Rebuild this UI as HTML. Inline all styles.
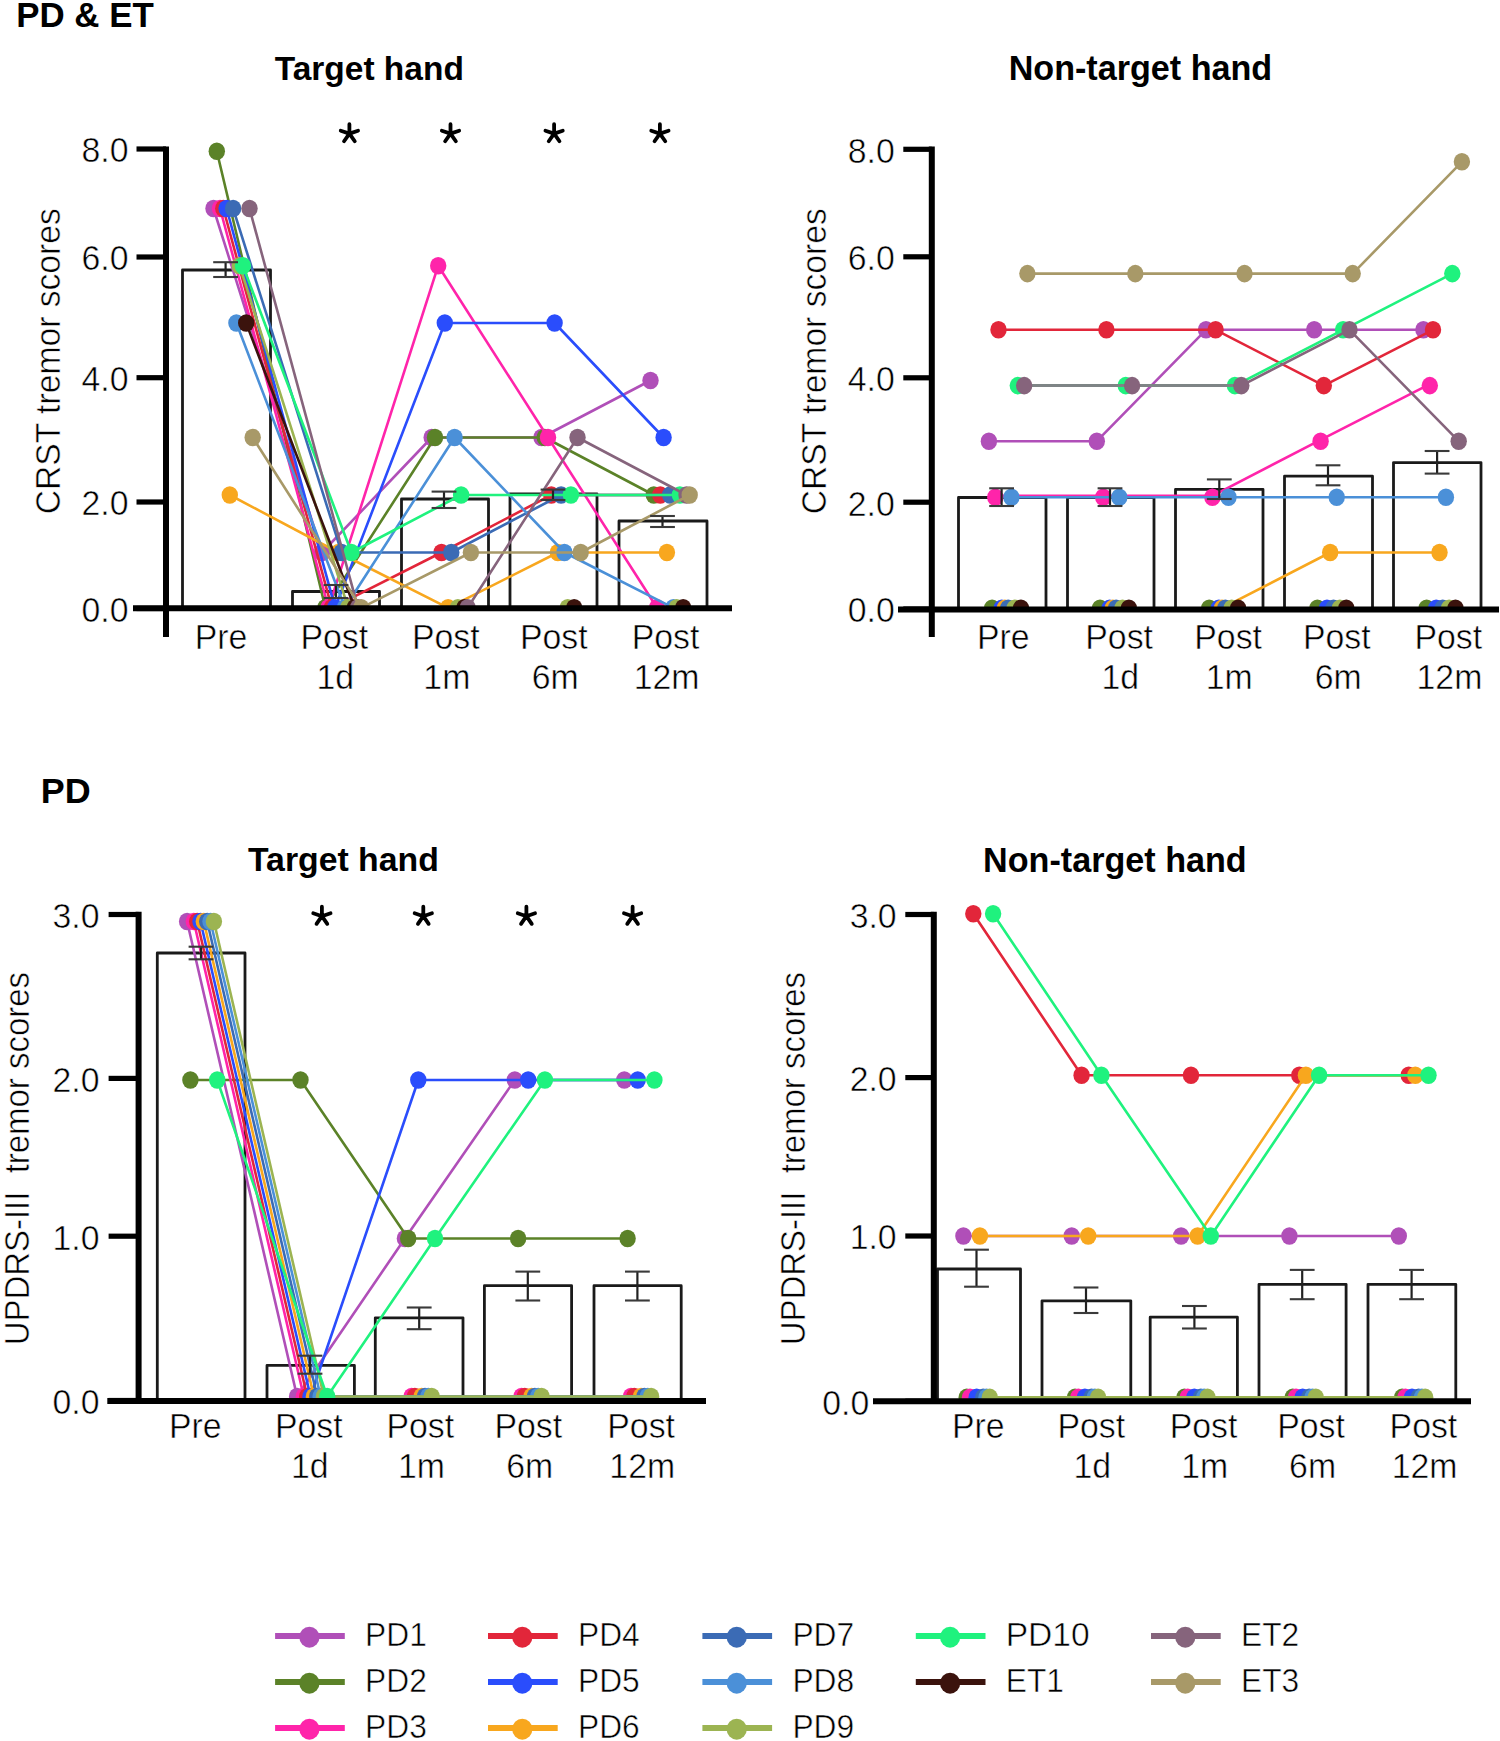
<!DOCTYPE html>
<html><head><meta charset="utf-8"><title>Figure</title><style>html,body{margin:0;padding:0;background:#fff;}svg{display:block;}.thin{stroke:#fff;stroke-width:0.55px;}</style></head><body>
<svg width="1500" height="1741" viewBox="0 0 1500 1741" font-family='"Liberation Sans", sans-serif'>
<rect width="1500" height="1741" fill="#fff"/>
<g>
<text x="0" y="0" font-size="35.23" font-weight="bold" transform="translate(16.14,27.20) scale(0.9907,1)" >PD &amp; ET</text>
<text x="0" y="0" font-size="34.47" font-weight="bold" transform="translate(40.87,803.30) scale(1.0425,1)" >PD</text>
<text x="0" y="0" font-size="33.10" font-weight="bold" transform="translate(274.66,80.00) scale(1.0121,1)" >Target hand</text>
<text x="0" y="0" font-size="34.34" font-weight="bold" transform="translate(1008.70,79.90) scale(0.9939,1)" >Non-target hand</text>
<text x="0" y="0" font-size="33.10" font-weight="bold" transform="translate(247.96,870.50) scale(1.0213,1)" >Target hand</text>
<text x="0" y="0" font-size="35.17" font-weight="bold" transform="translate(983.09,871.50) scale(0.9709,1)" >Non-target hand</text>
<path d="M182.5,608.2 V270.0 H270.5 V608.2" fill="none" stroke="#1a1a1a" stroke-width="2.8" stroke-linejoin="round"/>
<path d="M292.5,608.2 V591.5 H379.5 V608.2" fill="none" stroke="#1a1a1a" stroke-width="2.8" stroke-linejoin="round"/>
<path d="M401.5,608.2 V499.0 H488.5 V608.2" fill="none" stroke="#1a1a1a" stroke-width="2.8" stroke-linejoin="round"/>
<path d="M510.0,608.2 V494.0 H597.0 V608.2" fill="none" stroke="#1a1a1a" stroke-width="2.8" stroke-linejoin="round"/>
<path d="M619.0,608.2 V521.0 H707.0 V608.2" fill="none" stroke="#1a1a1a" stroke-width="2.8" stroke-linejoin="round"/>
<clipPath id="clip0"><rect x="106" y="106.5" width="700" height="501.70000000000005"/></clipPath>
<g clip-path="url(#clip0)">
<path d="M213.5,208.5 L322.0,552.5 L431.7,437.5 L541.5,437.5 L650.5,380.5" fill="none" stroke="#b04fb8" stroke-width="2.6" stroke-linejoin="round"/>
<ellipse cx="213.5" cy="208.5" rx="8.2" ry="8.8" fill="#b04fb8"/>
<ellipse cx="322.0" cy="552.5" rx="8.2" ry="8.8" fill="#b04fb8"/>
<ellipse cx="431.7" cy="437.5" rx="8.2" ry="8.8" fill="#b04fb8"/>
<ellipse cx="541.5" cy="437.5" rx="8.2" ry="8.8" fill="#b04fb8"/>
<ellipse cx="650.5" cy="380.5" rx="8.2" ry="8.8" fill="#b04fb8"/>
<path d="M216.8,151.2 L325.3,607.8 L435.0,437.5 L544.8,437.5 L653.8,495.0" fill="none" stroke="#5b8228" stroke-width="2.6" stroke-linejoin="round"/>
<ellipse cx="216.8" cy="151.2" rx="8.2" ry="8.8" fill="#5b8228"/>
<ellipse cx="325.3" cy="607.8" rx="8.2" ry="8.8" fill="#5b8228"/>
<ellipse cx="435.0" cy="437.5" rx="8.2" ry="8.8" fill="#5b8228"/>
<ellipse cx="544.8" cy="437.5" rx="8.2" ry="8.8" fill="#5b8228"/>
<ellipse cx="653.8" cy="495.0" rx="8.2" ry="8.8" fill="#5b8228"/>
<path d="M220.0,208.5 L328.5,607.8 L438.2,265.7 L548.0,437.5 L657.0,607.8" fill="none" stroke="#ff24aa" stroke-width="2.6" stroke-linejoin="round"/>
<ellipse cx="220.0" cy="208.5" rx="8.2" ry="8.8" fill="#ff24aa"/>
<ellipse cx="328.5" cy="607.8" rx="8.2" ry="8.8" fill="#ff24aa"/>
<ellipse cx="438.2" cy="265.7" rx="8.2" ry="8.8" fill="#ff24aa"/>
<ellipse cx="548.0" cy="437.5" rx="8.2" ry="8.8" fill="#ff24aa"/>
<ellipse cx="657.0" cy="607.8" rx="8.2" ry="8.8" fill="#ff24aa"/>
<path d="M223.3,208.5 L331.8,607.8 L441.5,552.5 L551.3,495.0 L660.3,495.0" fill="none" stroke="#e2263a" stroke-width="2.6" stroke-linejoin="round"/>
<ellipse cx="223.3" cy="208.5" rx="8.2" ry="8.8" fill="#e2263a"/>
<ellipse cx="331.8" cy="607.8" rx="8.2" ry="8.8" fill="#e2263a"/>
<ellipse cx="441.5" cy="552.5" rx="8.2" ry="8.8" fill="#e2263a"/>
<ellipse cx="551.3" cy="495.0" rx="8.2" ry="8.8" fill="#e2263a"/>
<ellipse cx="660.3" cy="495.0" rx="8.2" ry="8.8" fill="#e2263a"/>
<path d="M226.6,208.5 L335.1,607.8 L444.8,323.0 L554.6,323.0 L663.6,437.5" fill="none" stroke="#2a4dfc" stroke-width="2.6" stroke-linejoin="round"/>
<ellipse cx="226.6" cy="208.5" rx="8.2" ry="8.8" fill="#2a4dfc"/>
<ellipse cx="335.1" cy="607.8" rx="8.2" ry="8.8" fill="#2a4dfc"/>
<ellipse cx="444.8" cy="323.0" rx="8.2" ry="8.8" fill="#2a4dfc"/>
<ellipse cx="554.6" cy="323.0" rx="8.2" ry="8.8" fill="#2a4dfc"/>
<ellipse cx="663.6" cy="437.5" rx="8.2" ry="8.8" fill="#2a4dfc"/>
<path d="M229.8,495.0 L338.4,552.5 L448.1,607.8 L557.9,552.5 L666.9,552.5" fill="none" stroke="#f8a71e" stroke-width="2.6" stroke-linejoin="round"/>
<ellipse cx="229.8" cy="495.0" rx="8.2" ry="8.8" fill="#f8a71e"/>
<ellipse cx="338.4" cy="552.5" rx="8.2" ry="8.8" fill="#f8a71e"/>
<ellipse cx="448.1" cy="607.8" rx="8.2" ry="8.8" fill="#f8a71e"/>
<ellipse cx="557.9" cy="552.5" rx="8.2" ry="8.8" fill="#f8a71e"/>
<ellipse cx="666.9" cy="552.5" rx="8.2" ry="8.8" fill="#f8a71e"/>
<path d="M233.1,208.5 L341.6,552.5 L451.3,552.5 L561.1,495.0 L670.1,495.0" fill="none" stroke="#3b6bb5" stroke-width="2.6" stroke-linejoin="round"/>
<ellipse cx="233.1" cy="208.5" rx="8.2" ry="8.8" fill="#3b6bb5"/>
<ellipse cx="341.6" cy="552.5" rx="8.2" ry="8.8" fill="#3b6bb5"/>
<ellipse cx="451.3" cy="552.5" rx="8.2" ry="8.8" fill="#3b6bb5"/>
<ellipse cx="561.1" cy="495.0" rx="8.2" ry="8.8" fill="#3b6bb5"/>
<ellipse cx="670.1" cy="495.0" rx="8.2" ry="8.8" fill="#3b6bb5"/>
<path d="M236.4,323.0 L344.9,607.8 L454.6,437.5 L564.4,552.5 L673.4,607.8" fill="none" stroke="#4b90d8" stroke-width="2.6" stroke-linejoin="round"/>
<ellipse cx="236.4" cy="323.0" rx="8.2" ry="8.8" fill="#4b90d8"/>
<ellipse cx="344.9" cy="607.8" rx="8.2" ry="8.8" fill="#4b90d8"/>
<ellipse cx="454.6" cy="437.5" rx="8.2" ry="8.8" fill="#4b90d8"/>
<ellipse cx="564.4" cy="552.5" rx="8.2" ry="8.8" fill="#4b90d8"/>
<ellipse cx="673.4" cy="607.8" rx="8.2" ry="8.8" fill="#4b90d8"/>
<path d="M239.7,265.7 L348.2,607.8 L457.9,607.8 L567.7,607.8 L676.7,607.8" fill="none" stroke="#9cb452" stroke-width="2.6" stroke-linejoin="round"/>
<ellipse cx="239.7" cy="265.7" rx="8.2" ry="8.8" fill="#9cb452"/>
<ellipse cx="348.2" cy="607.8" rx="8.2" ry="8.8" fill="#9cb452"/>
<ellipse cx="457.9" cy="607.8" rx="8.2" ry="8.8" fill="#9cb452"/>
<ellipse cx="567.7" cy="607.8" rx="8.2" ry="8.8" fill="#9cb452"/>
<ellipse cx="676.7" cy="607.8" rx="8.2" ry="8.8" fill="#9cb452"/>
<path d="M242.9,265.7 L351.4,552.5 L461.1,495.0 L570.9,495.0 L679.9,495.0" fill="none" stroke="#1ff27e" stroke-width="2.6" stroke-linejoin="round"/>
<ellipse cx="242.9" cy="265.7" rx="8.2" ry="8.8" fill="#1ff27e"/>
<ellipse cx="351.4" cy="552.5" rx="8.2" ry="8.8" fill="#1ff27e"/>
<ellipse cx="461.1" cy="495.0" rx="8.2" ry="8.8" fill="#1ff27e"/>
<ellipse cx="570.9" cy="495.0" rx="8.2" ry="8.8" fill="#1ff27e"/>
<ellipse cx="679.9" cy="495.0" rx="8.2" ry="8.8" fill="#1ff27e"/>
<path d="M246.2,323.0 L354.7,607.8 L464.4,607.8 L574.2,607.8 L683.2,607.8" fill="none" stroke="#3b130d" stroke-width="2.6" stroke-linejoin="round"/>
<ellipse cx="246.2" cy="323.0" rx="8.2" ry="8.8" fill="#3b130d"/>
<ellipse cx="354.7" cy="607.8" rx="8.2" ry="8.8" fill="#3b130d"/>
<ellipse cx="464.4" cy="607.8" rx="8.2" ry="8.8" fill="#3b130d"/>
<ellipse cx="574.2" cy="607.8" rx="8.2" ry="8.8" fill="#3b130d"/>
<ellipse cx="683.2" cy="607.8" rx="8.2" ry="8.8" fill="#3b130d"/>
<path d="M249.5,208.5 L358.0,607.8 L467.7,607.8 L577.5,437.5 L686.5,495.0" fill="none" stroke="#86647c" stroke-width="2.6" stroke-linejoin="round"/>
<ellipse cx="249.5" cy="208.5" rx="8.2" ry="8.8" fill="#86647c"/>
<ellipse cx="358.0" cy="607.8" rx="8.2" ry="8.8" fill="#86647c"/>
<ellipse cx="467.7" cy="607.8" rx="8.2" ry="8.8" fill="#86647c"/>
<ellipse cx="577.5" cy="437.5" rx="8.2" ry="8.8" fill="#86647c"/>
<ellipse cx="686.5" cy="495.0" rx="8.2" ry="8.8" fill="#86647c"/>
<path d="M252.7,437.5 L361.2,607.8 L470.9,552.5 L580.7,552.5 L689.7,495.0" fill="none" stroke="#a89968" stroke-width="2.6" stroke-linejoin="round"/>
<ellipse cx="252.7" cy="437.5" rx="8.2" ry="8.8" fill="#a89968"/>
<ellipse cx="361.2" cy="607.8" rx="8.2" ry="8.8" fill="#a89968"/>
<ellipse cx="470.9" cy="552.5" rx="8.2" ry="8.8" fill="#a89968"/>
<ellipse cx="580.7" cy="552.5" rx="8.2" ry="8.8" fill="#a89968"/>
<ellipse cx="689.7" cy="495.0" rx="8.2" ry="8.8" fill="#a89968"/>
</g>
<line x1="225.6" y1="262.2" x2="225.6" y2="277.0" stroke="#222" stroke-width="2.2" stroke-linecap="butt"/>
<line x1="213.2" y1="262.2" x2="238.0" y2="262.2" stroke="#3a3a3a" stroke-width="2.1" stroke-linecap="butt"/>
<line x1="213.2" y1="277.0" x2="238.0" y2="277.0" stroke="#3a3a3a" stroke-width="2.1" stroke-linecap="butt"/>
<line x1="336.0" y1="585.0" x2="336.0" y2="598.0" stroke="#222" stroke-width="2.2" stroke-linecap="butt"/>
<line x1="323.6" y1="585.0" x2="348.4" y2="585.0" stroke="#3a3a3a" stroke-width="2.1" stroke-linecap="butt"/>
<line x1="323.6" y1="598.0" x2="348.4" y2="598.0" stroke="#3a3a3a" stroke-width="2.1" stroke-linecap="butt"/>
<line x1="444.0" y1="491.6" x2="444.0" y2="508.0" stroke="#222" stroke-width="2.2" stroke-linecap="butt"/>
<line x1="431.6" y1="491.6" x2="456.4" y2="491.6" stroke="#3a3a3a" stroke-width="2.1" stroke-linecap="butt"/>
<line x1="431.6" y1="508.0" x2="456.4" y2="508.0" stroke="#3a3a3a" stroke-width="2.1" stroke-linecap="butt"/>
<line x1="553.0" y1="489.6" x2="553.0" y2="500.0" stroke="#222" stroke-width="2.2" stroke-linecap="butt"/>
<line x1="540.6" y1="489.6" x2="565.4" y2="489.6" stroke="#3a3a3a" stroke-width="2.1" stroke-linecap="butt"/>
<line x1="540.6" y1="500.0" x2="565.4" y2="500.0" stroke="#3a3a3a" stroke-width="2.1" stroke-linecap="butt"/>
<line x1="662.5" y1="516.0" x2="662.5" y2="527.0" stroke="#222" stroke-width="2.2" stroke-linecap="butt"/>
<line x1="650.1" y1="516.0" x2="674.9" y2="516.0" stroke="#3a3a3a" stroke-width="2.1" stroke-linecap="butt"/>
<line x1="650.1" y1="527.0" x2="674.9" y2="527.0" stroke="#3a3a3a" stroke-width="2.1" stroke-linecap="butt"/>
<line x1="133.0" y1="608.2" x2="732.0" y2="608.2" stroke="#000" stroke-width="6" stroke-linecap="butt"/>
<line x1="166.0" y1="146.5" x2="166.0" y2="637.0" stroke="#000" stroke-width="6" stroke-linecap="butt"/>
<line x1="136.5" y1="149.0" x2="166.0" y2="149.0" stroke="#000" stroke-width="5.2" stroke-linecap="butt"/>
<text x="0" y="0" font-size="35.80" font-weight="normal" class="thin" transform="translate(81.54,162.40) scale(0.9450,1)">8.0</text>
<line x1="136.5" y1="257.0" x2="166.0" y2="257.0" stroke="#000" stroke-width="5.2" stroke-linecap="butt"/>
<text x="0" y="0" font-size="35.80" font-weight="normal" class="thin" transform="translate(81.54,270.40) scale(0.9450,1)">6.0</text>
<line x1="136.5" y1="377.7" x2="166.0" y2="377.7" stroke="#000" stroke-width="5.2" stroke-linecap="butt"/>
<text x="0" y="0" font-size="35.80" font-weight="normal" class="thin" transform="translate(81.54,391.10) scale(0.9450,1)">4.0</text>
<line x1="136.5" y1="502.0" x2="166.0" y2="502.0" stroke="#000" stroke-width="5.2" stroke-linecap="butt"/>
<text x="0" y="0" font-size="35.80" font-weight="normal" class="thin" transform="translate(81.54,515.40) scale(0.9450,1)">2.0</text>
<line x1="136.5" y1="608.5" x2="166.0" y2="608.5" stroke="#000" stroke-width="5.2" stroke-linecap="butt"/>
<text x="0" y="0" font-size="35.80" font-weight="normal" class="thin" transform="translate(81.54,621.90) scale(0.9450,1)">0.0</text>
<text x="0" y="0" font-size="35.80" font-weight="normal" class="thin" transform="translate(194.72,649.10) scale(0.9450,1)">Pre</text>
<text x="0" y="0" font-size="35.80" font-weight="normal" class="thin" transform="translate(300.40,649.10) scale(0.9450,1)">Post</text>
<text x="0" y="0" font-size="35.80" font-weight="normal" class="thin" transform="translate(316.51,689.40) scale(0.9450,1)">1d</text>
<text x="0" y="0" font-size="35.80" font-weight="normal" class="thin" transform="translate(411.90,649.10) scale(0.9450,1)">Post</text>
<text x="0" y="0" font-size="35.80" font-weight="normal" class="thin" transform="translate(423.36,689.40) scale(0.9450,1)">1m</text>
<text x="0" y="0" font-size="35.80" font-weight="normal" class="thin" transform="translate(519.90,649.10) scale(0.9450,1)">Post</text>
<text x="0" y="0" font-size="35.80" font-weight="normal" class="thin" transform="translate(531.78,689.40) scale(0.9450,1)">6m</text>
<text x="0" y="0" font-size="35.80" font-weight="normal" class="thin" transform="translate(631.70,649.10) scale(0.9450,1)">Post</text>
<text x="0" y="0" font-size="35.80" font-weight="normal" class="thin" transform="translate(633.73,689.40) scale(0.9450,1)">12m</text>
<text x="0" y="0" font-size="34.35" font-weight="normal" class="thin" transform="translate(60.26,514.28) rotate(-90) scale(0.9804,1)">CRST tremor scores</text>
<path d="M349.40,133.60L349.40,124.14M349.40,133.60L340.75,130.68M349.40,133.60L344.05,141.26M349.40,133.60L354.75,141.26M349.40,133.60L358.05,130.68" stroke="#000" stroke-width="3.8" stroke-linecap="round" fill="none"/>
<path d="M450.50,133.60L450.50,124.14M450.50,133.60L441.85,130.68M450.50,133.60L445.15,141.26M450.50,133.60L455.85,141.26M450.50,133.60L459.15,130.68" stroke="#000" stroke-width="3.8" stroke-linecap="round" fill="none"/>
<path d="M554.10,133.60L554.10,124.14M554.10,133.60L545.45,130.68M554.10,133.60L548.75,141.26M554.10,133.60L559.45,141.26M554.10,133.60L562.75,130.68" stroke="#000" stroke-width="3.8" stroke-linecap="round" fill="none"/>
<path d="M659.90,133.60L659.90,124.14M659.90,133.60L651.25,130.68M659.90,133.60L654.55,141.26M659.90,133.60L665.25,141.26M659.90,133.60L668.55,130.68" stroke="#000" stroke-width="3.8" stroke-linecap="round" fill="none"/>
<path d="M958.5,609.5 V497.5 H1046.0 V609.5" fill="none" stroke="#1a1a1a" stroke-width="2.8" stroke-linejoin="round"/>
<path d="M1067.5,609.5 V497.5 H1154.0 V609.5" fill="none" stroke="#1a1a1a" stroke-width="2.8" stroke-linejoin="round"/>
<path d="M1175.5,609.5 V489.3 H1263.0 V609.5" fill="none" stroke="#1a1a1a" stroke-width="2.8" stroke-linejoin="round"/>
<path d="M1284.5,609.5 V476.2 H1372.5 V609.5" fill="none" stroke="#1a1a1a" stroke-width="2.8" stroke-linejoin="round"/>
<path d="M1393.5,609.5 V462.6 H1481.0 V609.5" fill="none" stroke="#1a1a1a" stroke-width="2.8" stroke-linejoin="round"/>
<clipPath id="clip1"><rect x="871.8" y="106.5" width="700" height="503.0"/></clipPath>
<g clip-path="url(#clip1)">
<path d="M988.9,441.2 L1096.8,441.2 L1206.0,329.8 L1314.2,329.8 L1423.4,329.8" fill="none" stroke="#b04fb8" stroke-width="2.6" stroke-linejoin="round"/>
<ellipse cx="988.9" cy="441.2" rx="8.2" ry="8.8" fill="#b04fb8"/>
<ellipse cx="1096.8" cy="441.2" rx="8.2" ry="8.8" fill="#b04fb8"/>
<ellipse cx="1206.0" cy="329.8" rx="8.2" ry="8.8" fill="#b04fb8"/>
<ellipse cx="1314.2" cy="329.8" rx="8.2" ry="8.8" fill="#b04fb8"/>
<ellipse cx="1423.4" cy="329.8" rx="8.2" ry="8.8" fill="#b04fb8"/>
<path d="M992.1,608.2 L1100.0,608.2 L1209.2,608.2 L1317.4,608.2 L1426.6,608.2" fill="none" stroke="#5b8228" stroke-width="2.6" stroke-linejoin="round"/>
<ellipse cx="992.1" cy="608.2" rx="8.2" ry="8.8" fill="#5b8228"/>
<ellipse cx="1100.0" cy="608.2" rx="8.2" ry="8.8" fill="#5b8228"/>
<ellipse cx="1209.2" cy="608.2" rx="8.2" ry="8.8" fill="#5b8228"/>
<ellipse cx="1317.4" cy="608.2" rx="8.2" ry="8.8" fill="#5b8228"/>
<ellipse cx="1426.6" cy="608.2" rx="8.2" ry="8.8" fill="#5b8228"/>
<path d="M995.3,495.8 L1103.2,495.8 L1212.4,495.8 L1320.6,439.8 L1429.8,384.2" fill="none" stroke="#ff24aa" stroke-width="2.6" stroke-linejoin="round"/>
<ellipse cx="995.3" cy="497.2" rx="8.2" ry="8.8" fill="#ff24aa"/>
<ellipse cx="1103.2" cy="497.2" rx="8.2" ry="8.8" fill="#ff24aa"/>
<ellipse cx="1212.4" cy="497.2" rx="8.2" ry="8.8" fill="#ff24aa"/>
<ellipse cx="1320.6" cy="441.2" rx="8.2" ry="8.8" fill="#ff24aa"/>
<ellipse cx="1429.8" cy="385.6" rx="8.2" ry="8.8" fill="#ff24aa"/>
<path d="M998.5,329.8 L1106.4,329.8 L1215.6,329.8 L1323.8,385.6 L1433.0,329.8" fill="none" stroke="#e2263a" stroke-width="2.6" stroke-linejoin="round"/>
<ellipse cx="998.5" cy="329.8" rx="8.2" ry="8.8" fill="#e2263a"/>
<ellipse cx="1106.4" cy="329.8" rx="8.2" ry="8.8" fill="#e2263a"/>
<ellipse cx="1215.6" cy="329.8" rx="8.2" ry="8.8" fill="#e2263a"/>
<ellipse cx="1323.8" cy="385.6" rx="8.2" ry="8.8" fill="#e2263a"/>
<ellipse cx="1433.0" cy="329.8" rx="8.2" ry="8.8" fill="#e2263a"/>
<path d="M1001.7,608.2 L1109.6,608.2 L1218.8,608.2 L1327.0,608.2 L1436.2,608.2" fill="none" stroke="#2a4dfc" stroke-width="2.6" stroke-linejoin="round"/>
<ellipse cx="1001.7" cy="608.2" rx="8.2" ry="8.8" fill="#2a4dfc"/>
<ellipse cx="1109.6" cy="608.2" rx="8.2" ry="8.8" fill="#2a4dfc"/>
<ellipse cx="1218.8" cy="608.2" rx="8.2" ry="8.8" fill="#2a4dfc"/>
<ellipse cx="1327.0" cy="608.2" rx="8.2" ry="8.8" fill="#2a4dfc"/>
<ellipse cx="1436.2" cy="608.2" rx="8.2" ry="8.8" fill="#2a4dfc"/>
<path d="M1004.9,608.2 L1112.8,608.2 L1222.0,608.2 L1330.2,552.5 L1439.5,552.5" fill="none" stroke="#f8a71e" stroke-width="2.6" stroke-linejoin="round"/>
<ellipse cx="1004.9" cy="608.2" rx="8.2" ry="8.8" fill="#f8a71e"/>
<ellipse cx="1112.8" cy="608.2" rx="8.2" ry="8.8" fill="#f8a71e"/>
<ellipse cx="1222.0" cy="608.2" rx="8.2" ry="8.8" fill="#f8a71e"/>
<ellipse cx="1330.2" cy="552.5" rx="8.2" ry="8.8" fill="#f8a71e"/>
<ellipse cx="1439.5" cy="552.5" rx="8.2" ry="8.8" fill="#f8a71e"/>
<path d="M1008.2,608.2 L1116.1,608.2 L1225.3,608.2 L1333.5,608.2 L1442.7,608.2" fill="none" stroke="#3b6bb5" stroke-width="2.6" stroke-linejoin="round"/>
<ellipse cx="1008.2" cy="608.2" rx="8.2" ry="8.8" fill="#3b6bb5"/>
<ellipse cx="1116.1" cy="608.2" rx="8.2" ry="8.8" fill="#3b6bb5"/>
<ellipse cx="1225.3" cy="608.2" rx="8.2" ry="8.8" fill="#3b6bb5"/>
<ellipse cx="1333.5" cy="608.2" rx="8.2" ry="8.8" fill="#3b6bb5"/>
<ellipse cx="1442.7" cy="608.2" rx="8.2" ry="8.8" fill="#3b6bb5"/>
<path d="M1011.4,497.2 L1119.3,497.2 L1228.5,497.2 L1336.7,497.2 L1445.9,497.2" fill="none" stroke="#4b90d8" stroke-width="2.6" stroke-linejoin="round"/>
<ellipse cx="1011.4" cy="497.2" rx="8.2" ry="8.8" fill="#4b90d8"/>
<ellipse cx="1119.3" cy="497.2" rx="8.2" ry="8.8" fill="#4b90d8"/>
<ellipse cx="1228.5" cy="497.2" rx="8.2" ry="8.8" fill="#4b90d8"/>
<ellipse cx="1336.7" cy="497.2" rx="8.2" ry="8.8" fill="#4b90d8"/>
<ellipse cx="1445.9" cy="497.2" rx="8.2" ry="8.8" fill="#4b90d8"/>
<path d="M1014.6,608.2 L1122.5,608.2 L1231.7,608.2 L1339.9,608.2 L1449.1,608.2" fill="none" stroke="#9cb452" stroke-width="2.6" stroke-linejoin="round"/>
<ellipse cx="1014.6" cy="608.2" rx="8.2" ry="8.8" fill="#9cb452"/>
<ellipse cx="1122.5" cy="608.2" rx="8.2" ry="8.8" fill="#9cb452"/>
<ellipse cx="1231.7" cy="608.2" rx="8.2" ry="8.8" fill="#9cb452"/>
<ellipse cx="1339.9" cy="608.2" rx="8.2" ry="8.8" fill="#9cb452"/>
<ellipse cx="1449.1" cy="608.2" rx="8.2" ry="8.8" fill="#9cb452"/>
<path d="M1017.8,385.6 L1125.7,385.6 L1234.9,385.6 L1343.1,329.8 L1452.3,273.6" fill="none" stroke="#1ff27e" stroke-width="2.6" stroke-linejoin="round"/>
<ellipse cx="1017.8" cy="385.6" rx="8.2" ry="8.8" fill="#1ff27e"/>
<ellipse cx="1125.7" cy="385.6" rx="8.2" ry="8.8" fill="#1ff27e"/>
<ellipse cx="1234.9" cy="385.6" rx="8.2" ry="8.8" fill="#1ff27e"/>
<ellipse cx="1343.1" cy="329.8" rx="8.2" ry="8.8" fill="#1ff27e"/>
<ellipse cx="1452.3" cy="273.6" rx="8.2" ry="8.8" fill="#1ff27e"/>
<path d="M1021.0,608.2 L1128.9,608.2 L1238.1,608.2 L1346.3,608.2 L1455.5,608.2" fill="none" stroke="#3b130d" stroke-width="2.6" stroke-linejoin="round"/>
<ellipse cx="1021.0" cy="608.2" rx="8.2" ry="8.8" fill="#3b130d"/>
<ellipse cx="1128.9" cy="608.2" rx="8.2" ry="8.8" fill="#3b130d"/>
<ellipse cx="1238.1" cy="608.2" rx="8.2" ry="8.8" fill="#3b130d"/>
<ellipse cx="1346.3" cy="608.2" rx="8.2" ry="8.8" fill="#3b130d"/>
<ellipse cx="1455.5" cy="608.2" rx="8.2" ry="8.8" fill="#3b130d"/>
<path d="M1024.2,385.6 L1132.1,385.6 L1241.3,385.6 L1349.5,329.8 L1458.7,441.2" fill="none" stroke="#86647c" stroke-width="2.6" stroke-linejoin="round"/>
<line x1="1024.2" y1="385.6" x2="1243.0" y2="385.6" stroke="#7f8486" stroke-width="2.6" stroke-linecap="butt"/>
<ellipse cx="1024.2" cy="385.6" rx="8.2" ry="8.8" fill="#86647c"/>
<ellipse cx="1132.1" cy="385.6" rx="8.2" ry="8.8" fill="#86647c"/>
<ellipse cx="1241.3" cy="385.6" rx="8.2" ry="8.8" fill="#86647c"/>
<ellipse cx="1349.5" cy="329.8" rx="8.2" ry="8.8" fill="#86647c"/>
<ellipse cx="1458.7" cy="441.2" rx="8.2" ry="8.8" fill="#86647c"/>
<path d="M1027.4,273.6 L1135.3,273.6 L1244.5,273.6 L1352.7,273.6 L1461.9,161.8" fill="none" stroke="#a89968" stroke-width="2.6" stroke-linejoin="round"/>
<ellipse cx="1027.4" cy="273.6" rx="8.2" ry="8.8" fill="#a89968"/>
<ellipse cx="1135.3" cy="273.6" rx="8.2" ry="8.8" fill="#a89968"/>
<ellipse cx="1244.5" cy="273.6" rx="8.2" ry="8.8" fill="#a89968"/>
<ellipse cx="1352.7" cy="273.6" rx="8.2" ry="8.8" fill="#a89968"/>
<ellipse cx="1461.9" cy="161.8" rx="8.2" ry="8.8" fill="#a89968"/>
</g>
<line x1="1001.6" y1="488.3" x2="1001.6" y2="506.0" stroke="#222" stroke-width="2.2" stroke-linecap="butt"/>
<line x1="989.2" y1="488.3" x2="1014.0" y2="488.3" stroke="#3a3a3a" stroke-width="2.1" stroke-linecap="butt"/>
<line x1="989.2" y1="506.0" x2="1014.0" y2="506.0" stroke="#3a3a3a" stroke-width="2.1" stroke-linecap="butt"/>
<line x1="1110.0" y1="488.3" x2="1110.0" y2="506.0" stroke="#222" stroke-width="2.2" stroke-linecap="butt"/>
<line x1="1097.6" y1="488.3" x2="1122.4" y2="488.3" stroke="#3a3a3a" stroke-width="2.1" stroke-linecap="butt"/>
<line x1="1097.6" y1="506.0" x2="1122.4" y2="506.0" stroke="#3a3a3a" stroke-width="2.1" stroke-linecap="butt"/>
<line x1="1219.3" y1="479.4" x2="1219.3" y2="499.0" stroke="#222" stroke-width="2.2" stroke-linecap="butt"/>
<line x1="1206.9" y1="479.4" x2="1231.7" y2="479.4" stroke="#3a3a3a" stroke-width="2.1" stroke-linecap="butt"/>
<line x1="1206.9" y1="499.0" x2="1231.7" y2="499.0" stroke="#3a3a3a" stroke-width="2.1" stroke-linecap="butt"/>
<line x1="1328.0" y1="465.3" x2="1328.0" y2="485.3" stroke="#222" stroke-width="2.2" stroke-linecap="butt"/>
<line x1="1315.6" y1="465.3" x2="1340.4" y2="465.3" stroke="#3a3a3a" stroke-width="2.1" stroke-linecap="butt"/>
<line x1="1315.6" y1="485.3" x2="1340.4" y2="485.3" stroke="#3a3a3a" stroke-width="2.1" stroke-linecap="butt"/>
<line x1="1437.1" y1="451.0" x2="1437.1" y2="473.6" stroke="#222" stroke-width="2.2" stroke-linecap="butt"/>
<line x1="1424.7" y1="451.0" x2="1449.5" y2="451.0" stroke="#3a3a3a" stroke-width="2.1" stroke-linecap="butt"/>
<line x1="1424.7" y1="473.6" x2="1449.5" y2="473.6" stroke="#3a3a3a" stroke-width="2.1" stroke-linecap="butt"/>
<line x1="898.0" y1="609.5" x2="1499.0" y2="609.5" stroke="#000" stroke-width="6" stroke-linecap="butt"/>
<line x1="931.8" y1="146.5" x2="931.8" y2="637.0" stroke="#000" stroke-width="6" stroke-linecap="butt"/>
<line x1="903.3" y1="149.3" x2="931.8" y2="149.3" stroke="#000" stroke-width="5.2" stroke-linecap="butt"/>
<text x="0" y="0" font-size="35.80" font-weight="normal" class="thin" transform="translate(847.74,162.70) scale(0.9450,1)">8.0</text>
<line x1="903.3" y1="256.8" x2="931.8" y2="256.8" stroke="#000" stroke-width="5.2" stroke-linecap="butt"/>
<text x="0" y="0" font-size="35.80" font-weight="normal" class="thin" transform="translate(847.74,270.20) scale(0.9450,1)">6.0</text>
<line x1="903.3" y1="377.8" x2="931.8" y2="377.8" stroke="#000" stroke-width="5.2" stroke-linecap="butt"/>
<text x="0" y="0" font-size="35.80" font-weight="normal" class="thin" transform="translate(847.74,391.20) scale(0.9450,1)">4.0</text>
<line x1="903.3" y1="502.2" x2="931.8" y2="502.2" stroke="#000" stroke-width="5.2" stroke-linecap="butt"/>
<text x="0" y="0" font-size="35.80" font-weight="normal" class="thin" transform="translate(847.74,515.60) scale(0.9450,1)">2.0</text>
<line x1="903.3" y1="609.0" x2="931.8" y2="609.0" stroke="#000" stroke-width="5.2" stroke-linecap="butt"/>
<text x="0" y="0" font-size="35.80" font-weight="normal" class="thin" transform="translate(847.74,622.40) scale(0.9450,1)">0.0</text>
<text x="0" y="0" font-size="35.80" font-weight="normal" class="thin" transform="translate(977.02,649.10) scale(0.9450,1)">Pre</text>
<text x="0" y="0" font-size="35.80" font-weight="normal" class="thin" transform="translate(1085.30,649.10) scale(0.9450,1)">Post</text>
<text x="0" y="0" font-size="35.80" font-weight="normal" class="thin" transform="translate(1101.41,689.40) scale(0.9450,1)">1d</text>
<text x="0" y="0" font-size="35.80" font-weight="normal" class="thin" transform="translate(1194.30,649.10) scale(0.9450,1)">Post</text>
<text x="0" y="0" font-size="35.80" font-weight="normal" class="thin" transform="translate(1205.76,689.40) scale(0.9450,1)">1m</text>
<text x="0" y="0" font-size="35.80" font-weight="normal" class="thin" transform="translate(1302.90,649.10) scale(0.9450,1)">Post</text>
<text x="0" y="0" font-size="35.80" font-weight="normal" class="thin" transform="translate(1314.78,689.40) scale(0.9450,1)">6m</text>
<text x="0" y="0" font-size="35.80" font-weight="normal" class="thin" transform="translate(1414.50,649.10) scale(0.9450,1)">Post</text>
<text x="0" y="0" font-size="35.80" font-weight="normal" class="thin" transform="translate(1416.53,689.40) scale(0.9450,1)">12m</text>
<text x="0" y="0" font-size="34.91" font-weight="normal" class="thin" transform="translate(826.25,514.28) rotate(-90) scale(0.9645,1)">CRST tremor scores</text>
<path d="M157.3,1401.0 V953.0 H245.0 V1401.0" fill="none" stroke="#1a1a1a" stroke-width="2.8" stroke-linejoin="round"/>
<path d="M267.0,1401.0 V1365.4 H354.4 V1401.0" fill="none" stroke="#1a1a1a" stroke-width="2.8" stroke-linejoin="round"/>
<path d="M375.3,1401.0 V1317.8 H463.0 V1401.0" fill="none" stroke="#1a1a1a" stroke-width="2.8" stroke-linejoin="round"/>
<path d="M484.4,1401.0 V1285.7 H571.6 V1401.0" fill="none" stroke="#1a1a1a" stroke-width="2.8" stroke-linejoin="round"/>
<path d="M594.0,1401.0 V1285.7 H681.2 V1401.0" fill="none" stroke="#1a1a1a" stroke-width="2.8" stroke-linejoin="round"/>
<clipPath id="clip2"><rect x="78.6" y="871.8" width="700" height="529.2"/></clipPath>
<g clip-path="url(#clip2)">
<path d="M187.1,921.5 L297.1,1396.5 L404.9,1238.5 L514.8,1080.0 L624.3,1080.0" fill="none" stroke="#b04fb8" stroke-width="2.6" stroke-linejoin="round"/>
<ellipse cx="187.1" cy="921.5" rx="8.2" ry="8.8" fill="#b04fb8"/>
<ellipse cx="297.1" cy="1396.5" rx="8.2" ry="8.8" fill="#b04fb8"/>
<ellipse cx="404.9" cy="1238.5" rx="8.2" ry="8.8" fill="#b04fb8"/>
<ellipse cx="514.8" cy="1080.0" rx="8.2" ry="8.8" fill="#b04fb8"/>
<ellipse cx="624.3" cy="1080.0" rx="8.2" ry="8.8" fill="#b04fb8"/>
<path d="M190.4,1080.0 L300.5,1080.0 L408.2,1238.5 L518.1,1238.5 L627.6,1238.5" fill="none" stroke="#5b8228" stroke-width="2.6" stroke-linejoin="round"/>
<ellipse cx="190.4" cy="1080.0" rx="8.2" ry="8.8" fill="#5b8228"/>
<ellipse cx="300.5" cy="1080.0" rx="8.2" ry="8.8" fill="#5b8228"/>
<ellipse cx="408.2" cy="1238.5" rx="8.2" ry="8.8" fill="#5b8228"/>
<ellipse cx="518.1" cy="1238.5" rx="8.2" ry="8.8" fill="#5b8228"/>
<ellipse cx="627.6" cy="1238.5" rx="8.2" ry="8.8" fill="#5b8228"/>
<path d="M193.8,921.5 L303.8,1396.5 L411.6,1396.5 L521.5,1396.5 L631.0,1396.5" fill="none" stroke="#ff24aa" stroke-width="2.6" stroke-linejoin="round"/>
<ellipse cx="193.8" cy="921.5" rx="8.2" ry="8.8" fill="#ff24aa"/>
<ellipse cx="303.8" cy="1396.5" rx="8.2" ry="8.8" fill="#ff24aa"/>
<ellipse cx="411.6" cy="1396.5" rx="8.2" ry="8.8" fill="#ff24aa"/>
<ellipse cx="521.5" cy="1396.5" rx="8.2" ry="8.8" fill="#ff24aa"/>
<ellipse cx="631.0" cy="1396.5" rx="8.2" ry="8.8" fill="#ff24aa"/>
<path d="M197.2,921.5 L307.2,1396.5 L414.9,1396.5 L524.8,1396.5 L634.3,1396.5" fill="none" stroke="#e2263a" stroke-width="2.6" stroke-linejoin="round"/>
<ellipse cx="197.2" cy="921.5" rx="8.2" ry="8.8" fill="#e2263a"/>
<ellipse cx="307.2" cy="1396.5" rx="8.2" ry="8.8" fill="#e2263a"/>
<ellipse cx="414.9" cy="1396.5" rx="8.2" ry="8.8" fill="#e2263a"/>
<ellipse cx="524.8" cy="1396.5" rx="8.2" ry="8.8" fill="#e2263a"/>
<ellipse cx="634.3" cy="1396.5" rx="8.2" ry="8.8" fill="#e2263a"/>
<path d="M200.5,921.5 L310.5,1396.5 L418.3,1080.0 L528.2,1080.0 L637.7,1080.0" fill="none" stroke="#2a4dfc" stroke-width="2.6" stroke-linejoin="round"/>
<ellipse cx="200.5" cy="921.5" rx="8.2" ry="8.8" fill="#2a4dfc"/>
<ellipse cx="310.5" cy="1396.5" rx="8.2" ry="8.8" fill="#2a4dfc"/>
<ellipse cx="418.3" cy="1080.0" rx="8.2" ry="8.8" fill="#2a4dfc"/>
<ellipse cx="528.2" cy="1080.0" rx="8.2" ry="8.8" fill="#2a4dfc"/>
<ellipse cx="637.7" cy="1080.0" rx="8.2" ry="8.8" fill="#2a4dfc"/>
<path d="M203.8,921.5 L313.9,1396.5 L421.6,1396.5 L531.5,1396.5 L641.0,1396.5" fill="none" stroke="#f8a71e" stroke-width="2.6" stroke-linejoin="round"/>
<ellipse cx="203.8" cy="921.5" rx="8.2" ry="8.8" fill="#f8a71e"/>
<ellipse cx="313.9" cy="1396.5" rx="8.2" ry="8.8" fill="#f8a71e"/>
<ellipse cx="421.6" cy="1396.5" rx="8.2" ry="8.8" fill="#f8a71e"/>
<ellipse cx="531.5" cy="1396.5" rx="8.2" ry="8.8" fill="#f8a71e"/>
<ellipse cx="641.0" cy="1396.5" rx="8.2" ry="8.8" fill="#f8a71e"/>
<path d="M207.2,921.5 L317.2,1396.5 L425.0,1396.5 L534.9,1396.5 L644.4,1396.5" fill="none" stroke="#3b6bb5" stroke-width="2.6" stroke-linejoin="round"/>
<ellipse cx="207.2" cy="921.5" rx="8.2" ry="8.8" fill="#3b6bb5"/>
<ellipse cx="317.2" cy="1396.5" rx="8.2" ry="8.8" fill="#3b6bb5"/>
<ellipse cx="425.0" cy="1396.5" rx="8.2" ry="8.8" fill="#3b6bb5"/>
<ellipse cx="534.9" cy="1396.5" rx="8.2" ry="8.8" fill="#3b6bb5"/>
<ellipse cx="644.4" cy="1396.5" rx="8.2" ry="8.8" fill="#3b6bb5"/>
<path d="M210.5,921.5 L320.6,1396.5 L428.3,1396.5 L538.2,1396.5 L647.8,1396.5" fill="none" stroke="#4b90d8" stroke-width="2.6" stroke-linejoin="round"/>
<ellipse cx="210.5" cy="921.5" rx="8.2" ry="8.8" fill="#4b90d8"/>
<ellipse cx="320.6" cy="1396.5" rx="8.2" ry="8.8" fill="#4b90d8"/>
<ellipse cx="428.3" cy="1396.5" rx="8.2" ry="8.8" fill="#4b90d8"/>
<ellipse cx="538.2" cy="1396.5" rx="8.2" ry="8.8" fill="#4b90d8"/>
<ellipse cx="647.8" cy="1396.5" rx="8.2" ry="8.8" fill="#4b90d8"/>
<path d="M213.9,921.5 L323.9,1396.5 L431.7,1396.5 L541.6,1396.5 L651.1,1396.5" fill="none" stroke="#9cb452" stroke-width="2.6" stroke-linejoin="round"/>
<ellipse cx="213.9" cy="921.5" rx="8.2" ry="8.8" fill="#9cb452"/>
<ellipse cx="323.9" cy="1396.5" rx="8.2" ry="8.8" fill="#9cb452"/>
<ellipse cx="431.7" cy="1396.5" rx="8.2" ry="8.8" fill="#9cb452"/>
<ellipse cx="541.6" cy="1396.5" rx="8.2" ry="8.8" fill="#9cb452"/>
<ellipse cx="651.1" cy="1396.5" rx="8.2" ry="8.8" fill="#9cb452"/>
<path d="M217.2,1080.0 L327.2,1396.5 L435.0,1238.5 L544.9,1080.0 L654.4,1080.0" fill="none" stroke="#1ff27e" stroke-width="2.6" stroke-linejoin="round"/>
<ellipse cx="217.2" cy="1080.0" rx="8.2" ry="8.8" fill="#1ff27e"/>
<ellipse cx="327.2" cy="1396.5" rx="8.2" ry="8.8" fill="#1ff27e"/>
<ellipse cx="435.0" cy="1238.5" rx="8.2" ry="8.8" fill="#1ff27e"/>
<ellipse cx="544.9" cy="1080.0" rx="8.2" ry="8.8" fill="#1ff27e"/>
<ellipse cx="654.4" cy="1080.0" rx="8.2" ry="8.8" fill="#1ff27e"/>
</g>
<line x1="201.0" y1="946.7" x2="201.0" y2="959.3" stroke="#222" stroke-width="2.2" stroke-linecap="butt"/>
<line x1="188.6" y1="946.7" x2="213.4" y2="946.7" stroke="#3a3a3a" stroke-width="2.1" stroke-linecap="butt"/>
<line x1="188.6" y1="959.3" x2="213.4" y2="959.3" stroke="#3a3a3a" stroke-width="2.1" stroke-linecap="butt"/>
<line x1="310.0" y1="1355.7" x2="310.0" y2="1373.7" stroke="#222" stroke-width="2.2" stroke-linecap="butt"/>
<line x1="297.6" y1="1355.7" x2="322.4" y2="1355.7" stroke="#3a3a3a" stroke-width="2.1" stroke-linecap="butt"/>
<line x1="297.6" y1="1373.7" x2="322.4" y2="1373.7" stroke="#3a3a3a" stroke-width="2.1" stroke-linecap="butt"/>
<line x1="419.2" y1="1307.5" x2="419.2" y2="1329.2" stroke="#222" stroke-width="2.2" stroke-linecap="butt"/>
<line x1="406.8" y1="1307.5" x2="431.6" y2="1307.5" stroke="#3a3a3a" stroke-width="2.1" stroke-linecap="butt"/>
<line x1="406.8" y1="1329.2" x2="431.6" y2="1329.2" stroke="#3a3a3a" stroke-width="2.1" stroke-linecap="butt"/>
<line x1="527.8" y1="1271.6" x2="527.8" y2="1300.5" stroke="#222" stroke-width="2.2" stroke-linecap="butt"/>
<line x1="515.4" y1="1271.6" x2="540.2" y2="1271.6" stroke="#3a3a3a" stroke-width="2.1" stroke-linecap="butt"/>
<line x1="515.4" y1="1300.5" x2="540.2" y2="1300.5" stroke="#3a3a3a" stroke-width="2.1" stroke-linecap="butt"/>
<line x1="637.4" y1="1271.6" x2="637.4" y2="1300.5" stroke="#222" stroke-width="2.2" stroke-linecap="butt"/>
<line x1="625.0" y1="1271.6" x2="649.8" y2="1271.6" stroke="#3a3a3a" stroke-width="2.1" stroke-linecap="butt"/>
<line x1="625.0" y1="1300.5" x2="649.8" y2="1300.5" stroke="#3a3a3a" stroke-width="2.1" stroke-linecap="butt"/>
<line x1="107.3" y1="1401.0" x2="706.0" y2="1401.0" stroke="#000" stroke-width="6" stroke-linecap="butt"/>
<line x1="138.6" y1="911.8" x2="138.6" y2="1403.0" stroke="#000" stroke-width="6" stroke-linecap="butt"/>
<line x1="108.6" y1="914.5" x2="138.6" y2="914.5" stroke="#000" stroke-width="5.2" stroke-linecap="butt"/>
<text x="0" y="0" font-size="35.80" font-weight="normal" class="thin" transform="translate(52.54,927.90) scale(0.9450,1)">3.0</text>
<line x1="108.6" y1="1078.4" x2="138.6" y2="1078.4" stroke="#000" stroke-width="5.2" stroke-linecap="butt"/>
<text x="0" y="0" font-size="35.80" font-weight="normal" class="thin" transform="translate(52.54,1091.80) scale(0.9450,1)">2.0</text>
<line x1="108.6" y1="1236.2" x2="138.6" y2="1236.2" stroke="#000" stroke-width="5.2" stroke-linecap="butt"/>
<text x="0" y="0" font-size="35.80" font-weight="normal" class="thin" transform="translate(52.54,1249.60) scale(0.9450,1)">1.0</text>
<line x1="108.6" y1="1400.5" x2="138.6" y2="1400.5" stroke="#000" stroke-width="5.2" stroke-linecap="butt"/>
<text x="0" y="0" font-size="35.80" font-weight="normal" class="thin" transform="translate(52.54,1413.90) scale(0.9450,1)">0.0</text>
<text x="0" y="0" font-size="35.80" font-weight="normal" class="thin" transform="translate(169.02,1438.10) scale(0.9450,1)">Pre</text>
<text x="0" y="0" font-size="35.80" font-weight="normal" class="thin" transform="translate(274.90,1438.10) scale(0.9450,1)">Post</text>
<text x="0" y="0" font-size="35.80" font-weight="normal" class="thin" transform="translate(291.01,1477.80) scale(0.9450,1)">1d</text>
<text x="0" y="0" font-size="35.80" font-weight="normal" class="thin" transform="translate(386.50,1438.10) scale(0.9450,1)">Post</text>
<text x="0" y="0" font-size="35.80" font-weight="normal" class="thin" transform="translate(397.96,1477.80) scale(0.9450,1)">1m</text>
<text x="0" y="0" font-size="35.80" font-weight="normal" class="thin" transform="translate(494.40,1438.10) scale(0.9450,1)">Post</text>
<text x="0" y="0" font-size="35.80" font-weight="normal" class="thin" transform="translate(506.28,1477.80) scale(0.9450,1)">6m</text>
<text x="0" y="0" font-size="35.80" font-weight="normal" class="thin" transform="translate(607.30,1438.10) scale(0.9450,1)">Post</text>
<text x="0" y="0" font-size="35.80" font-weight="normal" class="thin" transform="translate(609.33,1477.80) scale(0.9450,1)">12m</text>
<text x="0" y="0" font-size="35.05" font-weight="normal" class="thin" transform="translate(29.05,1345.25) rotate(-90) scale(0.9395,1)">UPDRS-III&#160;&#160;tremor scores</text>
<path d="M321.90,916.20L321.90,906.74M321.90,916.20L313.25,913.28M321.90,916.20L316.55,923.86M321.90,916.20L327.25,923.86M321.90,916.20L330.55,913.28" stroke="#000" stroke-width="3.8" stroke-linecap="round" fill="none"/>
<path d="M423.30,916.20L423.30,906.74M423.30,916.20L414.65,913.28M423.30,916.20L417.95,923.86M423.30,916.20L428.65,923.86M423.30,916.20L431.95,913.28" stroke="#000" stroke-width="3.8" stroke-linecap="round" fill="none"/>
<path d="M526.40,916.20L526.40,906.74M526.40,916.20L517.75,913.28M526.40,916.20L521.05,923.86M526.40,916.20L531.75,923.86M526.40,916.20L535.05,913.28" stroke="#000" stroke-width="3.8" stroke-linecap="round" fill="none"/>
<path d="M632.60,916.20L632.60,906.74M632.60,916.20L623.95,913.28M632.60,916.20L627.25,923.86M632.60,916.20L637.95,923.86M632.60,916.20L641.25,913.28" stroke="#000" stroke-width="3.8" stroke-linecap="round" fill="none"/>
<path d="M937.5,1401.3 V1269.0 H1020.5 V1401.3" fill="none" stroke="#1a1a1a" stroke-width="2.8" stroke-linejoin="round"/>
<path d="M1042.0,1401.3 V1300.8 H1130.8 V1401.3" fill="none" stroke="#1a1a1a" stroke-width="2.8" stroke-linejoin="round"/>
<path d="M1150.2,1401.3 V1317.2 H1237.4 V1401.3" fill="none" stroke="#1a1a1a" stroke-width="2.8" stroke-linejoin="round"/>
<path d="M1259.0,1401.3 V1284.3 H1346.1 V1401.3" fill="none" stroke="#1a1a1a" stroke-width="2.8" stroke-linejoin="round"/>
<path d="M1368.0,1401.3 V1284.3 H1455.8 V1401.3" fill="none" stroke="#1a1a1a" stroke-width="2.8" stroke-linejoin="round"/>
<clipPath id="clip3"><rect x="873.8" y="871.8" width="700" height="529.5"/></clipPath>
<g clip-path="url(#clip3)">
<path d="M963.4,1236.0 L1071.7,1236.0 L1181.1,1236.0 L1289.4,1236.0 L1398.8,1236.0" fill="none" stroke="#b04fb8" stroke-width="2.6" stroke-linejoin="round"/>
<ellipse cx="963.4" cy="1236.0" rx="8.2" ry="8.8" fill="#b04fb8"/>
<ellipse cx="1071.7" cy="1236.0" rx="8.2" ry="8.8" fill="#b04fb8"/>
<ellipse cx="1181.1" cy="1236.0" rx="8.2" ry="8.8" fill="#b04fb8"/>
<ellipse cx="1289.4" cy="1236.0" rx="8.2" ry="8.8" fill="#b04fb8"/>
<ellipse cx="1398.8" cy="1236.0" rx="8.2" ry="8.8" fill="#b04fb8"/>
<path d="M966.7,1397.4 L1075.0,1397.4 L1184.4,1397.4 L1292.7,1397.4 L1402.1,1397.4" fill="none" stroke="#5b8228" stroke-width="2.6" stroke-linejoin="round"/>
<ellipse cx="966.7" cy="1397.4" rx="8.2" ry="8.8" fill="#5b8228"/>
<ellipse cx="1075.0" cy="1397.4" rx="8.2" ry="8.8" fill="#5b8228"/>
<ellipse cx="1184.4" cy="1397.4" rx="8.2" ry="8.8" fill="#5b8228"/>
<ellipse cx="1292.7" cy="1397.4" rx="8.2" ry="8.8" fill="#5b8228"/>
<ellipse cx="1402.1" cy="1397.4" rx="8.2" ry="8.8" fill="#5b8228"/>
<path d="M970.0,1397.4 L1078.3,1397.4 L1187.7,1397.4 L1296.0,1397.4 L1405.4,1397.4" fill="none" stroke="#ff24aa" stroke-width="2.6" stroke-linejoin="round"/>
<ellipse cx="970.0" cy="1397.4" rx="8.2" ry="8.8" fill="#ff24aa"/>
<ellipse cx="1078.3" cy="1397.4" rx="8.2" ry="8.8" fill="#ff24aa"/>
<ellipse cx="1187.7" cy="1397.4" rx="8.2" ry="8.8" fill="#ff24aa"/>
<ellipse cx="1296.0" cy="1397.4" rx="8.2" ry="8.8" fill="#ff24aa"/>
<ellipse cx="1405.4" cy="1397.4" rx="8.2" ry="8.8" fill="#ff24aa"/>
<path d="M973.3,913.8 L1081.6,1075.2 L1191.0,1075.2 L1299.3,1075.2 L1408.7,1075.2" fill="none" stroke="#e2263a" stroke-width="2.6" stroke-linejoin="round"/>
<ellipse cx="973.3" cy="913.8" rx="8.2" ry="8.8" fill="#e2263a"/>
<ellipse cx="1081.6" cy="1075.2" rx="8.2" ry="8.8" fill="#e2263a"/>
<ellipse cx="1191.0" cy="1075.2" rx="8.2" ry="8.8" fill="#e2263a"/>
<ellipse cx="1299.3" cy="1075.2" rx="8.2" ry="8.8" fill="#e2263a"/>
<ellipse cx="1408.7" cy="1075.2" rx="8.2" ry="8.8" fill="#e2263a"/>
<path d="M976.6,1397.4 L1084.9,1397.4 L1194.3,1397.4 L1302.6,1397.4 L1412.0,1397.4" fill="none" stroke="#2a4dfc" stroke-width="2.6" stroke-linejoin="round"/>
<ellipse cx="976.6" cy="1397.4" rx="8.2" ry="8.8" fill="#2a4dfc"/>
<ellipse cx="1084.9" cy="1397.4" rx="8.2" ry="8.8" fill="#2a4dfc"/>
<ellipse cx="1194.3" cy="1397.4" rx="8.2" ry="8.8" fill="#2a4dfc"/>
<ellipse cx="1302.6" cy="1397.4" rx="8.2" ry="8.8" fill="#2a4dfc"/>
<ellipse cx="1412.0" cy="1397.4" rx="8.2" ry="8.8" fill="#2a4dfc"/>
<path d="M979.9,1236.0 L1088.2,1236.0 L1197.6,1236.0 L1305.9,1075.2 L1415.3,1075.2" fill="none" stroke="#f8a71e" stroke-width="2.6" stroke-linejoin="round"/>
<ellipse cx="979.9" cy="1236.0" rx="8.2" ry="8.8" fill="#f8a71e"/>
<ellipse cx="1088.2" cy="1236.0" rx="8.2" ry="8.8" fill="#f8a71e"/>
<ellipse cx="1197.6" cy="1236.0" rx="8.2" ry="8.8" fill="#f8a71e"/>
<ellipse cx="1305.9" cy="1075.2" rx="8.2" ry="8.8" fill="#f8a71e"/>
<ellipse cx="1415.3" cy="1075.2" rx="8.2" ry="8.8" fill="#f8a71e"/>
<path d="M983.2,1397.4 L1091.5,1397.4 L1200.9,1397.4 L1309.2,1397.4 L1418.6,1397.4" fill="none" stroke="#3b6bb5" stroke-width="2.6" stroke-linejoin="round"/>
<ellipse cx="983.2" cy="1397.4" rx="8.2" ry="8.8" fill="#3b6bb5"/>
<ellipse cx="1091.5" cy="1397.4" rx="8.2" ry="8.8" fill="#3b6bb5"/>
<ellipse cx="1200.9" cy="1397.4" rx="8.2" ry="8.8" fill="#3b6bb5"/>
<ellipse cx="1309.2" cy="1397.4" rx="8.2" ry="8.8" fill="#3b6bb5"/>
<ellipse cx="1418.6" cy="1397.4" rx="8.2" ry="8.8" fill="#3b6bb5"/>
<path d="M986.5,1397.4 L1094.8,1397.4 L1204.2,1397.4 L1312.5,1397.4 L1421.9,1397.4" fill="none" stroke="#4b90d8" stroke-width="2.6" stroke-linejoin="round"/>
<ellipse cx="986.5" cy="1397.4" rx="8.2" ry="8.8" fill="#4b90d8"/>
<ellipse cx="1094.8" cy="1397.4" rx="8.2" ry="8.8" fill="#4b90d8"/>
<ellipse cx="1204.2" cy="1397.4" rx="8.2" ry="8.8" fill="#4b90d8"/>
<ellipse cx="1312.5" cy="1397.4" rx="8.2" ry="8.8" fill="#4b90d8"/>
<ellipse cx="1421.9" cy="1397.4" rx="8.2" ry="8.8" fill="#4b90d8"/>
<path d="M989.8,1397.4 L1098.1,1397.4 L1207.5,1397.4 L1315.8,1397.4 L1425.2,1397.4" fill="none" stroke="#9cb452" stroke-width="2.6" stroke-linejoin="round"/>
<ellipse cx="989.8" cy="1397.4" rx="8.2" ry="8.8" fill="#9cb452"/>
<ellipse cx="1098.1" cy="1397.4" rx="8.2" ry="8.8" fill="#9cb452"/>
<ellipse cx="1207.5" cy="1397.4" rx="8.2" ry="8.8" fill="#9cb452"/>
<ellipse cx="1315.8" cy="1397.4" rx="8.2" ry="8.8" fill="#9cb452"/>
<ellipse cx="1425.2" cy="1397.4" rx="8.2" ry="8.8" fill="#9cb452"/>
<path d="M993.1,913.8 L1101.4,1075.2 L1210.8,1236.0 L1319.1,1075.2 L1428.5,1075.2" fill="none" stroke="#1ff27e" stroke-width="2.6" stroke-linejoin="round"/>
<ellipse cx="993.1" cy="913.8" rx="8.2" ry="8.8" fill="#1ff27e"/>
<ellipse cx="1101.4" cy="1075.2" rx="8.2" ry="8.8" fill="#1ff27e"/>
<ellipse cx="1210.8" cy="1236.0" rx="8.2" ry="8.8" fill="#1ff27e"/>
<ellipse cx="1319.1" cy="1075.2" rx="8.2" ry="8.8" fill="#1ff27e"/>
<ellipse cx="1428.5" cy="1075.2" rx="8.2" ry="8.8" fill="#1ff27e"/>
</g>
<line x1="976.5" y1="1249.7" x2="976.5" y2="1286.7" stroke="#222" stroke-width="2.2" stroke-linecap="butt"/>
<line x1="964.1" y1="1249.7" x2="988.9" y2="1249.7" stroke="#3a3a3a" stroke-width="2.1" stroke-linecap="butt"/>
<line x1="964.1" y1="1286.7" x2="988.9" y2="1286.7" stroke="#3a3a3a" stroke-width="2.1" stroke-linecap="butt"/>
<line x1="1086.0" y1="1287.5" x2="1086.0" y2="1313.0" stroke="#222" stroke-width="2.2" stroke-linecap="butt"/>
<line x1="1073.6" y1="1287.5" x2="1098.4" y2="1287.5" stroke="#3a3a3a" stroke-width="2.1" stroke-linecap="butt"/>
<line x1="1073.6" y1="1313.0" x2="1098.4" y2="1313.0" stroke="#3a3a3a" stroke-width="2.1" stroke-linecap="butt"/>
<line x1="1194.4" y1="1306.0" x2="1194.4" y2="1328.5" stroke="#222" stroke-width="2.2" stroke-linecap="butt"/>
<line x1="1182.0" y1="1306.0" x2="1206.8" y2="1306.0" stroke="#3a3a3a" stroke-width="2.1" stroke-linecap="butt"/>
<line x1="1182.0" y1="1328.5" x2="1206.8" y2="1328.5" stroke="#3a3a3a" stroke-width="2.1" stroke-linecap="butt"/>
<line x1="1302.2" y1="1269.9" x2="1302.2" y2="1299.2" stroke="#222" stroke-width="2.2" stroke-linecap="butt"/>
<line x1="1289.8" y1="1269.9" x2="1314.6" y2="1269.9" stroke="#3a3a3a" stroke-width="2.1" stroke-linecap="butt"/>
<line x1="1289.8" y1="1299.2" x2="1314.6" y2="1299.2" stroke="#3a3a3a" stroke-width="2.1" stroke-linecap="butt"/>
<line x1="1411.6" y1="1269.9" x2="1411.6" y2="1299.2" stroke="#222" stroke-width="2.2" stroke-linecap="butt"/>
<line x1="1399.2" y1="1269.9" x2="1424.0" y2="1269.9" stroke="#3a3a3a" stroke-width="2.1" stroke-linecap="butt"/>
<line x1="1399.2" y1="1299.2" x2="1424.0" y2="1299.2" stroke="#3a3a3a" stroke-width="2.1" stroke-linecap="butt"/>
<line x1="873.0" y1="1401.3" x2="1471.0" y2="1401.3" stroke="#000" stroke-width="6" stroke-linecap="butt"/>
<line x1="933.8" y1="911.8" x2="933.8" y2="1403.0" stroke="#000" stroke-width="6" stroke-linecap="butt"/>
<line x1="905.3" y1="914.5" x2="933.8" y2="914.5" stroke="#000" stroke-width="5.2" stroke-linecap="butt"/>
<text x="0" y="0" font-size="35.80" font-weight="normal" class="thin" transform="translate(849.64,927.90) scale(0.9450,1)">3.0</text>
<line x1="905.3" y1="1077.6" x2="933.8" y2="1077.6" stroke="#000" stroke-width="5.2" stroke-linecap="butt"/>
<text x="0" y="0" font-size="35.80" font-weight="normal" class="thin" transform="translate(849.64,1091.00) scale(0.9450,1)">2.0</text>
<line x1="905.3" y1="1236.0" x2="933.8" y2="1236.0" stroke="#000" stroke-width="5.2" stroke-linecap="butt"/>
<text x="0" y="0" font-size="35.80" font-weight="normal" class="thin" transform="translate(849.64,1249.40) scale(0.9450,1)">1.0</text>
<line x1="905.3" y1="1401.2" x2="933.8" y2="1401.2" stroke="#000" stroke-width="5.2" stroke-linecap="butt"/>
<text x="0" y="0" font-size="35.80" font-weight="normal" class="thin" transform="translate(822.24,1414.60) scale(0.9450,1)">0.0</text>
<text x="0" y="0" font-size="35.80" font-weight="normal" class="thin" transform="translate(952.02,1438.10) scale(0.9450,1)">Pre</text>
<text x="0" y="0" font-size="35.80" font-weight="normal" class="thin" transform="translate(1057.40,1438.10) scale(0.9450,1)">Post</text>
<text x="0" y="0" font-size="35.80" font-weight="normal" class="thin" transform="translate(1073.51,1477.80) scale(0.9450,1)">1d</text>
<text x="0" y="0" font-size="35.80" font-weight="normal" class="thin" transform="translate(1169.70,1438.10) scale(0.9450,1)">Post</text>
<text x="0" y="0" font-size="35.80" font-weight="normal" class="thin" transform="translate(1181.16,1477.80) scale(0.9450,1)">1m</text>
<text x="0" y="0" font-size="35.80" font-weight="normal" class="thin" transform="translate(1277.20,1438.10) scale(0.9450,1)">Post</text>
<text x="0" y="0" font-size="35.80" font-weight="normal" class="thin" transform="translate(1289.08,1477.80) scale(0.9450,1)">6m</text>
<text x="0" y="0" font-size="35.80" font-weight="normal" class="thin" transform="translate(1389.60,1438.10) scale(0.9450,1)">Post</text>
<text x="0" y="0" font-size="35.80" font-weight="normal" class="thin" transform="translate(1391.63,1477.80) scale(0.9450,1)">12m</text>
<text x="0" y="0" font-size="35.05" font-weight="normal" class="thin" transform="translate(804.65,1345.25) rotate(-90) scale(0.9395,1)">UPDRS-III&#160;&#160;tremor scores</text>
<line x1="275.1" y1="1636.0" x2="344.8" y2="1636.0" stroke="#b04fb8" stroke-width="5.9" stroke-linecap="butt"/>
<ellipse cx="309.4" cy="1637.2" rx="10.1" ry="10.5" fill="#b04fb8"/>
<text x="0" y="0" font-size="33.30" font-weight="normal" class="thin" transform="translate(365.08,1645.60) scale(0.9530,1)">PD1</text>
<line x1="275.1" y1="1682.0" x2="344.8" y2="1682.0" stroke="#5b8228" stroke-width="5.9" stroke-linecap="butt"/>
<ellipse cx="309.4" cy="1683.2" rx="10.1" ry="10.5" fill="#5b8228"/>
<text x="0" y="0" font-size="33.30" font-weight="normal" class="thin" transform="translate(365.08,1691.60) scale(0.9530,1)">PD2</text>
<line x1="275.1" y1="1728.0" x2="344.8" y2="1728.0" stroke="#ff24aa" stroke-width="5.9" stroke-linecap="butt"/>
<ellipse cx="309.4" cy="1729.2" rx="10.1" ry="10.5" fill="#ff24aa"/>
<text x="0" y="0" font-size="33.30" font-weight="normal" class="thin" transform="translate(365.08,1737.60) scale(0.9530,1)">PD3</text>
<line x1="488.0" y1="1636.0" x2="557.7" y2="1636.0" stroke="#e2263a" stroke-width="5.9" stroke-linecap="butt"/>
<ellipse cx="522.3" cy="1637.2" rx="10.1" ry="10.5" fill="#e2263a"/>
<text x="0" y="0" font-size="33.30" font-weight="normal" class="thin" transform="translate(577.98,1645.60) scale(0.9530,1)">PD4</text>
<line x1="488.0" y1="1682.0" x2="557.7" y2="1682.0" stroke="#2a4dfc" stroke-width="5.9" stroke-linecap="butt"/>
<ellipse cx="522.3" cy="1683.2" rx="10.1" ry="10.5" fill="#2a4dfc"/>
<text x="0" y="0" font-size="33.30" font-weight="normal" class="thin" transform="translate(577.98,1691.60) scale(0.9530,1)">PD5</text>
<line x1="488.0" y1="1728.0" x2="557.7" y2="1728.0" stroke="#f8a71e" stroke-width="5.9" stroke-linecap="butt"/>
<ellipse cx="522.3" cy="1729.2" rx="10.1" ry="10.5" fill="#f8a71e"/>
<text x="0" y="0" font-size="33.30" font-weight="normal" class="thin" transform="translate(577.98,1737.60) scale(0.9530,1)">PD6</text>
<line x1="702.4" y1="1636.0" x2="772.1" y2="1636.0" stroke="#3b6bb5" stroke-width="5.9" stroke-linecap="butt"/>
<ellipse cx="736.7" cy="1637.2" rx="10.1" ry="10.5" fill="#3b6bb5"/>
<text x="0" y="0" font-size="33.30" font-weight="normal" class="thin" transform="translate(792.38,1645.60) scale(0.9530,1)">PD7</text>
<line x1="702.4" y1="1682.0" x2="772.1" y2="1682.0" stroke="#4b90d8" stroke-width="5.9" stroke-linecap="butt"/>
<ellipse cx="736.7" cy="1683.2" rx="10.1" ry="10.5" fill="#4b90d8"/>
<text x="0" y="0" font-size="33.30" font-weight="normal" class="thin" transform="translate(792.38,1691.60) scale(0.9530,1)">PD8</text>
<line x1="702.4" y1="1728.0" x2="772.1" y2="1728.0" stroke="#9cb452" stroke-width="5.9" stroke-linecap="butt"/>
<ellipse cx="736.7" cy="1729.2" rx="10.1" ry="10.5" fill="#9cb452"/>
<text x="0" y="0" font-size="33.30" font-weight="normal" class="thin" transform="translate(792.38,1737.60) scale(0.9530,1)">PD9</text>
<line x1="915.8" y1="1636.0" x2="985.5" y2="1636.0" stroke="#1ff27e" stroke-width="5.9" stroke-linecap="butt"/>
<ellipse cx="950.1" cy="1637.2" rx="10.1" ry="10.5" fill="#1ff27e"/>
<text x="0" y="0" font-size="33.30" font-weight="normal" class="thin" transform="translate(1005.63,1645.60) scale(1.0100,1)">PD10</text>
<line x1="915.8" y1="1682.0" x2="985.5" y2="1682.0" stroke="#3b130d" stroke-width="5.9" stroke-linecap="butt"/>
<ellipse cx="950.1" cy="1683.2" rx="10.1" ry="10.5" fill="#3b130d"/>
<text x="0" y="0" font-size="33.30" font-weight="normal" class="thin" transform="translate(1005.78,1691.60) scale(0.9530,1)">ET1</text>
<line x1="1151.0" y1="1636.0" x2="1220.7" y2="1636.0" stroke="#86647c" stroke-width="5.9" stroke-linecap="butt"/>
<ellipse cx="1185.3" cy="1637.2" rx="10.1" ry="10.5" fill="#86647c"/>
<text x="0" y="0" font-size="33.30" font-weight="normal" class="thin" transform="translate(1240.98,1645.60) scale(0.9530,1)">ET2</text>
<line x1="1151.0" y1="1682.0" x2="1220.7" y2="1682.0" stroke="#a89968" stroke-width="5.9" stroke-linecap="butt"/>
<ellipse cx="1185.3" cy="1683.2" rx="10.1" ry="10.5" fill="#a89968"/>
<text x="0" y="0" font-size="33.30" font-weight="normal" class="thin" transform="translate(1240.98,1691.60) scale(0.9530,1)">ET3</text>
</g>
</svg>
</body></html>
